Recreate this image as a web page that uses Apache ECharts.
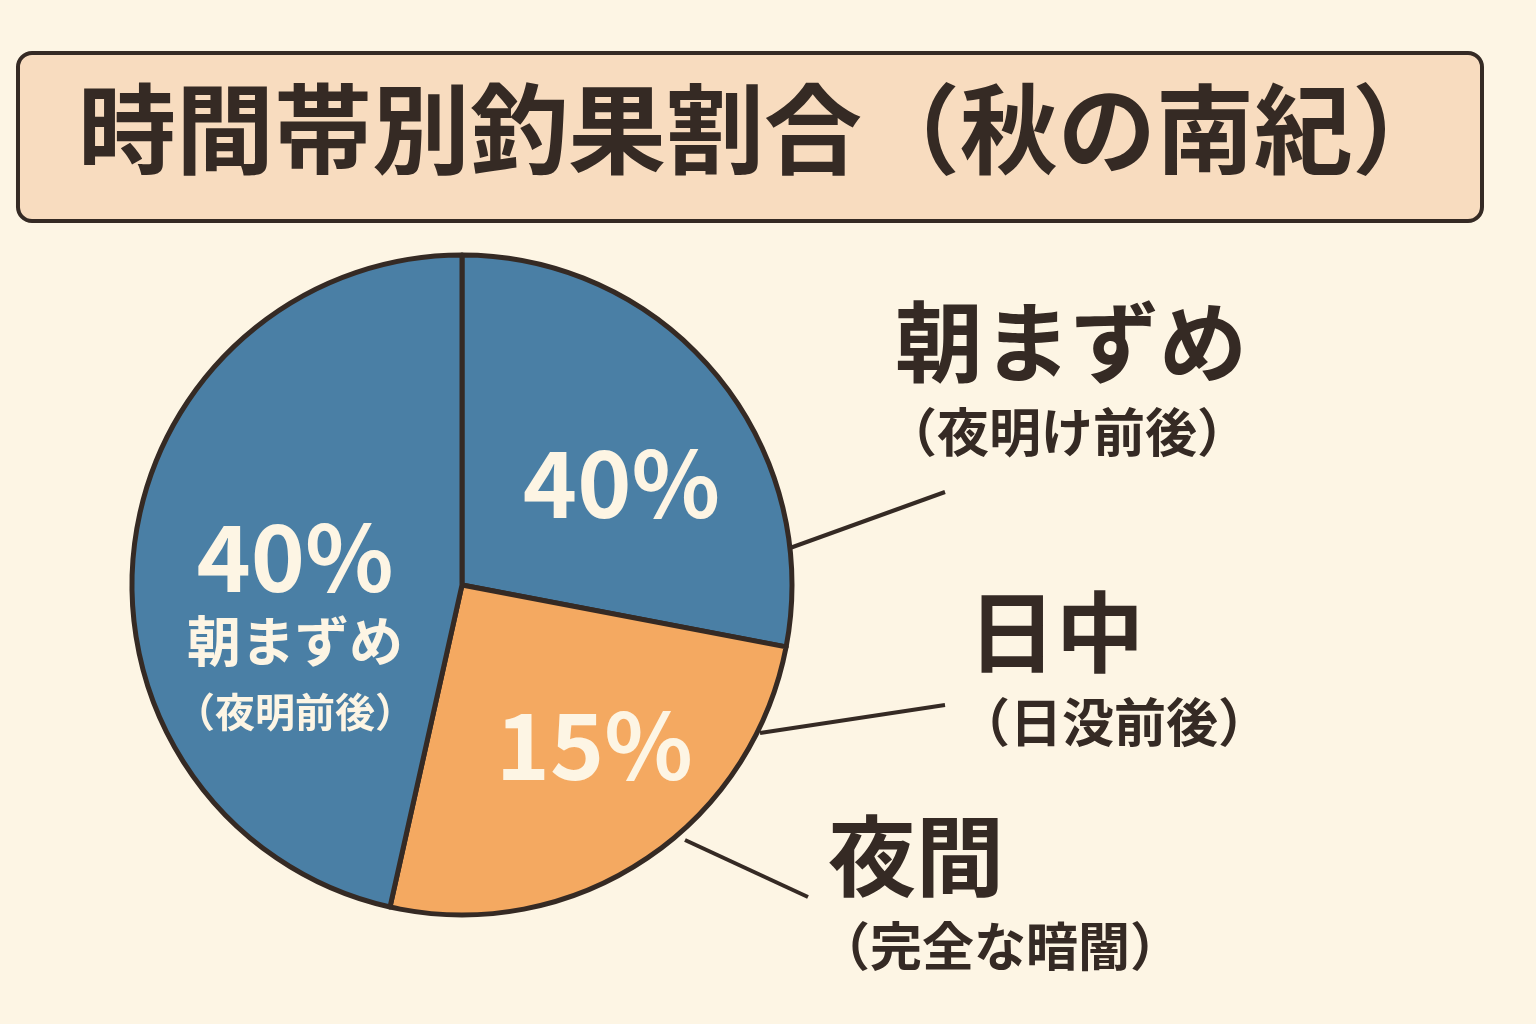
<!DOCTYPE html>
<html><head><meta charset="utf-8">
<script src="https://cdn.jsdelivr.net/npm/echarts@6/dist/echarts.min.js"></script>
<style>html,body{margin:0;padding:0;background:#fdf5e4}#c{width:1536px;height:1024px}</style>
</head><body><div id="c"></div>
<script>
const title = '時間帯別釣果割合（秋の南紀）';
const sliceNames = ['朝まずめ', '日中', '朝まずめ（夜明前後）'];
const sliceShares = [28, 25.5, 46.5];
const sliceLabels = ['40%', '15%', '40%'];
const sliceColors = ['#4a7fa5', '#f4a961', '#4a7fa5'];
const outerMain = ['朝まずめ', '日中', '夜間'];
const outerSub = ['（夜明け前後）', '（日没前後）', '（完全な暗闇）'];

const dark = '#352a24';
const font = '"Noto Sans CJK JP", sans-serif';
const chart = echarts.init(document.getElementById('c'));
const outerPos = [[895, 298], [968, 588], [828, 812]];
const lines = [[[790, 548], [945, 492]], [[760, 733], [945, 705]], [[685, 840], [808, 897]]];
const labelOffsets = [[30, 5], [40, 20], [0, 60]];
const graphics = [
  {type:'rect', shape:{x:18, y:53, width:1464, height:168, r:14}, style:{fill:'#f8dcbf', stroke:dark, lineWidth:4}},
  {type:'text', x:78, y:80, style:{text:title, font:'bold 98px ' + font, fill:dark}}
];
outerMain.forEach((m, i) => {
  graphics.push({type:'text', x:outerPos[i][0], y:outerPos[i][1], style:{text:m, font:'bold 88px ' + font, fill:dark}});
  graphics.push({type:'text', x:outerPos[i][0] - 10, y:outerPos[i][1] + 108, style:{text:outerSub[i], font:'bold 52px ' + font, fill:dark}});
  graphics.push({type:'line', shape:{x1:lines[i][0][0], y1:lines[i][0][1], x2:lines[i][1][0], y2:lines[i][1][1]}, style:{stroke:dark, lineWidth:4}});
});
chart.setOption({
  backgroundColor:'#fdf5e4',
  graphic: graphics,
  series:[{
    type:'pie', center:[462, 585], radius:[0, 330], startAngle:90, clockwise:true,
    animation:false, silent:true,
    itemStyle:{borderColor:dark, borderWidth:5},
    label:{position:'inside', color:'#fdf5e4', fontFamily:font, fontWeight:'bold', fontSize:92,
      formatter: p => p.dataIndex === 2 ? '{a|' + sliceLabels[2] + '}\n{b|朝まずめ}\n{c|（夜明前後）}' : sliceLabels[p.dataIndex],
      rich:{a:{fontSize:92, fontWeight:'bold', color:'#fdf5e4', fontFamily:font, lineHeight:96},
            b:{fontSize:54, fontWeight:'bold', color:'#fdf5e4', fontFamily:font, lineHeight:74},
            c:{fontSize:40, fontWeight:'bold', color:'#fdf5e4', fontFamily:font, lineHeight:66}}},
    data: sliceShares.map((v, i) => ({value:v, name:sliceNames[i], itemStyle:{color:sliceColors[i]}, label:{offset:labelOffsets[i]}}))
  }]
});
</script></body></html>
